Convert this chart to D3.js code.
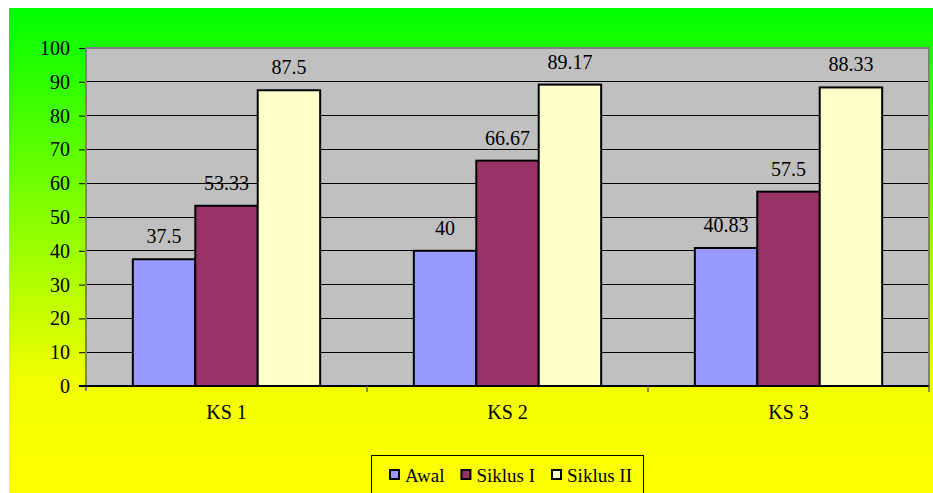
<!DOCTYPE html>
<html>
<head>
<meta charset="utf-8">
<title>KS chart</title>
<script src="https://d3js.org/d3.v7.min.js"></script>
<style>
  body { margin: 0; background: #fff; }
  svg text { font-family: "Times New Roman", "Liberation Serif", "DejaVu Serif", serif !important; fill: #000; }
</style>
</head>
<body>
<div id="chart"></div>
<script>
// data
var categories = ["KS 1", "KS 2", "KS 3"];
var seriesNames = ["Awal", "Siklus I", "Siklus II"];
var awal = [37.5, 40, 40.83];
var siklus1 = [53.33, 66.67, 57.5];
var siklus2 = [87.5, 89.17, 88.33];
var yTicks = [0, 10, 20, 30, 40, 50, 60, 70, 80, 90, 100];
var seriesColors = ["#9999ff", "#993366", "#ffffcc"];

var seriesValues = [awal, siklus1, siklus2];

var width = 933, height = 493;
var plot = { left: 86, top: 48, right: 929, bottom: 386 };

var svg = d3.select("#chart").append("svg")
  .attr("width", width)
  .attr("height", height);

// background gradient (green -> yellow)
var grad = svg.append("defs").append("linearGradient")
  .attr("id", "bg")
  .attr("x1", 0).attr("y1", 0).attr("x2", 0).attr("y2", 1);
grad.append("stop").attr("offset", 0).attr("stop-color", "#00ff00");
grad.append("stop").attr("offset", 0.77).attr("stop-color", "#f2ff00");
grad.append("stop").attr("offset", 1).attr("stop-color", "#ffff00");

svg.append("rect")
  .attr("x", 9).attr("y", 8)
  .attr("width", width - 9).attr("height", height - 8)
  .attr("fill", "url(#bg)");

// scales
var x0 = d3.scaleBand()
  .domain(categories)
  .range([plot.left, plot.right])
  .paddingInner(0).paddingOuter(0);

// 3 bars + gap of 1.5 bar widths per category
var barW = x0.bandwidth() / 4.5;
var x1 = d3.scaleBand()
  .domain(seriesNames)
  .range([barW * 0.75, barW * 3.75]);

var y = d3.scaleLinear().domain([0, 100]).range([plot.bottom, plot.top]);

// plot area
svg.append("rect")
  .attr("x", plot.left).attr("y", plot.top)
  .attr("width", plot.right - plot.left).attr("height", plot.bottom - plot.top)
  .attr("fill", "#c0c0c0");

// gridlines
svg.append("g").selectAll("line")
  .data(yTicks.filter(d => d > 0 && d < 100))
  .join("line")
  .attr("x1", plot.left).attr("x2", plot.right)
  .attr("y1", d => y(d)).attr("y2", d => y(d))
  .attr("stroke", "#000").attr("stroke-width", 1)
  .attr("shape-rendering", "crispEdges");

// top and right border
svg.append("path")
  .attr("d", `M${plot.left},${y(100)}H${plot.right}V${plot.bottom}`)
  .attr("fill", "none").attr("stroke", "#808080").attr("stroke-width", 2);

// bars
var groups = svg.append("g").selectAll("g")
  .data(categories)
  .join("g")
  .attr("transform", d => `translate(${x0(d)},0)`);

groups.selectAll("rect")
  .data((c, ci) => seriesNames.map((s, si) => ({ s: s, v: seriesValues[si][ci], i: si })))
  .join("rect")
  .attr("x", d => x1(d.s))
  .attr("y", d => y(d.v))
  .attr("width", x1.bandwidth())
  .attr("height", d => y(0) - y(d.v))
  .attr("fill", d => seriesColors[d.i])
  .attr("stroke", "#000").attr("stroke-width", 2);

// value labels
groups.selectAll("text.val")
  .data((c, ci) => seriesNames.map((s, si) => ({ s: s, v: seriesValues[si][ci] })))
  .join("text")
  .attr("class", "val")
  .attr("x", d => x1(d.s) + x1.bandwidth() / 2)
  .attr("y", d => y(d.v) - 16)
  .attr("text-anchor", "middle")
  .style("font-size", "20px")
  .text(d => d.v);

// y axis
var yAxis = svg.append("g")
  .attr("transform", `translate(${plot.left},0)`)
  .call(d3.axisLeft(y).tickValues(yTicks).tickSize(7).tickPadding(9).tickFormat(d3.format("d")));
yAxis.attr("font-family", null).attr("font-size", null);
yAxis.select(".domain").remove();
yAxis.selectAll(".tick line").attr("stroke", "#000");
yAxis.selectAll("text")
  .style("font-size", "20px")
  .attr("fill", "#000");
svg.append("line")
  .attr("x1", plot.left).attr("x2", plot.left)
  .attr("y1", plot.top).attr("y2", plot.bottom + 5)
  .attr("stroke", "#808080").attr("stroke-width", 2);

// x axis
svg.append("line")
  .attr("x1", plot.left - 7).attr("x2", plot.right)
  .attr("y1", plot.bottom).attr("y2", plot.bottom)
  .attr("stroke", "#000").attr("stroke-width", 2);
var bounds = categories.map(c => x0(c) + x0.bandwidth());
svg.append("g").selectAll("line")
  .data(bounds)
  .join("line")
  .attr("x1", d => d).attr("x2", d => d)
  .attr("y1", plot.bottom).attr("y2", plot.bottom + 6)
  .attr("stroke", "#666").attr("stroke-width", 1.5);
svg.append("g").selectAll("text")
  .data(categories)
  .join("text")
  .attr("x", d => x0(d) + x0.bandwidth() / 2)
  .attr("y", 419)
  .attr("text-anchor", "middle")
  .style("font-size", "20px")
  .text(d => d);

// legend
var legend = svg.append("g");
legend.append("rect")
  .attr("x", 371.5).attr("y", 455.5)
  .attr("width", 272).attr("height", 50)
  .attr("fill", "none").attr("stroke", "#000").attr("stroke-width", 1);
var lx = 390;
seriesNames.forEach(function(name, i) {
  legend.append("rect")
    .attr("x", lx).attr("y", 470)
    .attr("width", 9).attr("height", 9)
    .attr("fill", seriesColors[i])
    .attr("stroke", "#000").attr("stroke-width", 2);
  var t = legend.append("text")
    .attr("x", lx + 15).attr("y", 482)
    .style("font-size", "19px")
    .text(name);
  lx += 15 + t.node().getComputedTextLength() + 17;
});
</script>
</body>
</html>
